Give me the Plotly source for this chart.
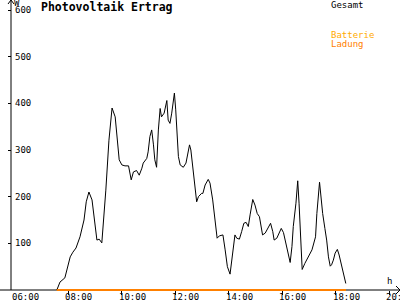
import plotly.graph_objects as go

# ---- data ----
gesamt_times = ["07:34","07:41","07:52","07:57","08:04","08:10","08:17","08:26","08:35","08:40",
                "08:46","08:53","09:00","09:04","09:09","09:15","09:24","09:31","09:38","09:45",
                "09:54","10:00","10:07","10:15","10:21","10:26","10:33","10:39","10:45","10:48",
                "10:56","10:59","11:03","11:07","11:11","11:14","11:18","11:22","11:26","11:29",
                "11:35","11:41","11:44","11:48","11:52","11:58","12:01","12:03","12:07","12:11",
                "12:18","12:24","12:28","12:32","12:35","12:41","12:46","12:48","12:52","12:59",
                "13:02","13:07","13:14","13:18","13:24","13:29","13:34","13:39","13:47","13:52",
                "13:57","14:03","14:07","14:10","14:14","14:18","14:24","14:29","14:34","14:39",
                "14:44","14:48","14:54","14:59","15:04","15:09","15:12","15:16","15:22","15:29",
                "15:34","15:39","15:42","15:48","15:54","15:58","16:03","16:08","16:13","16:18",
                "16:22","16:25","16:31","16:35","16:38","16:41","16:45","16:51","16:59","17:07",
                "17:15","17:18","17:24","17:27","17:31","17:36","17:40","17:44","17:48","17:51",
                "17:55","17:59","18:04","18:08","18:12","18:15","18:19","18:23"]
gesamt_values = [0,17,26,43,71,81,90,114,150,189,
                 210,193,129,107,109,101,214,321,390,371,
                 279,268,266,266,236,253,256,246,261,272,
                 282,296,329,343,311,279,263,343,389,371,
                 379,406,364,357,379,422,386,350,286,268,
                 263,272,296,311,300,250,197,189,200,207,
                 207,225,237,229,193,150,111,116,118,86,
                 50,34,64,96,118,111,109,125,143,145,
                 136,161,194,182,164,157,139,118,122,136,
                 143,125,107,111,125,132,123,100,79,59,
                 93,136,186,234,186,129,44,57,71,86,
                 114,164,231,200,164,132,107,71,51,54,
                 64,79,87,75,57,43,29,14]

ladung_times = ["07:34", "18:23"]
ladung_values = [0, 0]
batterie_times = ["07:34", "18:23"]
batterie_values = [0, 0]

x_tick_hours = [6, 8, 10, 12, 14, 16, 18, 20]
x_tick_labels = ["06:00", "08:00", "10:00", "12:00", "14:00", "16:00", "18:00", "20:00"]
y_tick_values = [100, 200, 300, 400, 500, 600]
y_tick_labels = ["100", "200", "300", "400", "500", "600"]


def to_hours(t):
    h, m = t.split(":")
    return int(h) + int(m) / 60.0


W, H = 400, 300
FONT = "DejaVu Sans Mono"

fig = go.Figure()
fig.add_trace(go.Scatter(x=[to_hours(t) for t in batterie_times], y=batterie_values,
                         mode="lines", line=dict(color="#FFAA00", width=2), name="Batterie"))
fig.add_trace(go.Scatter(x=[to_hours(t) for t in gesamt_times], y=gesamt_values,
                         mode="lines", line=dict(color="black", width=1), name="Gesamt"))
fig.add_trace(go.Scatter(x=[to_hours(t) for t in ladung_times], y=ladung_values,
                         mode="lines", line=dict(color="#FF8000", width=2), name="Ladung"))

# axis geometry (pixel placement of the axis frame)
ax_x_px = 11      # y-axis line position
base_px = 290     # x-axis line position
px_per_h = 374 / 14.0
px_per_w = 280 / 600.0
x0 = 6 - (15) / px_per_h
x1 = 6 + (W - 15) / px_per_h
y0 = -(H - base_px) / px_per_w
y1 = 600 + 10 / px_per_w

fig.update_layout(
    width=W, height=H, autosize=False,
    margin=dict(l=0, r=0, t=0, b=0),
    paper_bgcolor="white", plot_bgcolor="white",
    template="none", showlegend=False,
    font=dict(family=FONT, size=9, color="black"),
    xaxis=dict(range=[x0, x1], showgrid=False, zeroline=False, showline=False,
               tickvals=x_tick_hours, showticklabels=False,
               ticks="outside", ticklen=4, tickcolor="black", tickwidth=1,
               anchor="free", position=1 - base_px / H, automargin=False),
    yaxis=dict(range=[y0, y1], showgrid=False, zeroline=False, showline=False,
               tickvals=y_tick_values, ticktext=y_tick_labels,
               ticks="outside", ticklen=3, tickcolor="black", tickwidth=1,
               anchor="free", position=ax_x_px / W, automargin=False,
               ticklabelposition="inside",
               tickfont=dict(family=FONT, size=9, color="black")),
)

# x tick labels (left-aligned just before each tick, as in the original)
for hv, lab in zip(x_tick_hours, x_tick_labels):
    fig.add_annotation(text=lab, xref="x", yref="paper", x=hv, y=1 - 297 / H,
                       xanchor="left", yanchor="middle", xshift=-5, showarrow=False,
                       font=dict(family=FONT, size=9, color="black"))

# axis lines and arrowheads
fig.add_shape(type="line", xref="paper", yref="paper", x0=0, x1=1,
              y0=1 - base_px / H, y1=1 - base_px / H, line=dict(color="black", width=1), layer="below")
fig.add_shape(type="line", xref="paper", yref="paper", x0=ax_x_px / W, x1=ax_x_px / W,
              y0=1 - base_px / H, y1=1, line=dict(color="black", width=1), layer="below")
fig.add_shape(type="path", xref="paper", yref="paper",
              path=f"M {8/W} {1-4/H} L {ax_x_px/W} 1 L {14/W} {1-4/H}",
              line=dict(color="black", width=1))
fig.add_shape(type="path", xref="paper", yref="paper",
              path=f"M {396/W} {1-(base_px-4)/H} L 1 {1-base_px/H} L {396/W} {1-(base_px+4)/H}",
              line=dict(color="black", width=1))

def txt(text, xpx, ypx, color="black", size=9, anchor="left"):
    fig.add_annotation(text=text, xref="paper", yref="paper", x=xpx / W, y=1 - ypx / H,
                       xanchor=anchor, yanchor="middle", showarrow=False,
                       font=dict(family=FONT, size=size, color=color))

txt("<b>Photovoltaik Ertrag</b>", 39, 7, size=11.5)
txt("W", 12, 3)
txt("h", 385, 281)
txt("Gesamt", 329, 4.5)
txt("Batterie", 329, 35.5, color="#FFAA00")
txt("Ladung", 329, 44, color="#FF8000")

fig.write_html("out.html")
